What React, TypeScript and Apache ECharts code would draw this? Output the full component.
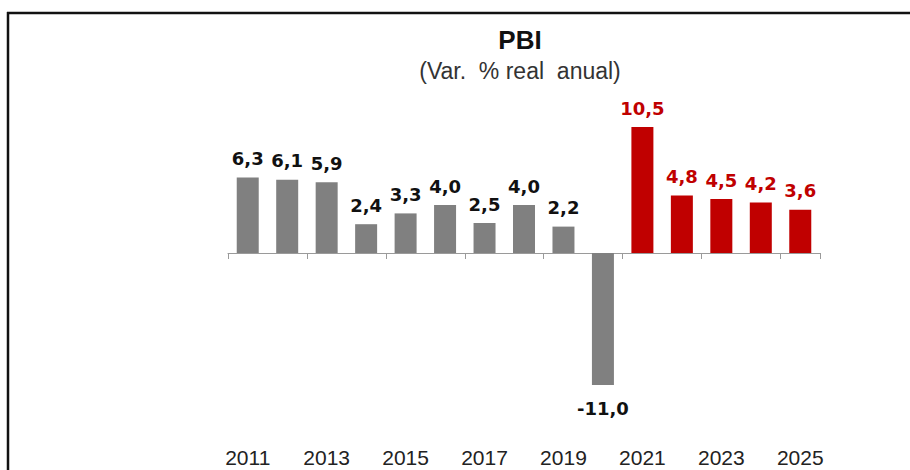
import React, { useEffect, useRef } from "react";
import * as echarts from "echarts";

const years = ["2011","2012","2013","2014","2015","2016","2017","2018","2019","2020","2021","2022","2023","2024","2025"];
const values = [6.3, 6.1, 5.9, 2.4, 3.3, 4.0, 2.5, 4.0, 2.2, -11.0, 10.5, 4.8, 4.5, 4.2, 3.6];
const projectedFrom = "2021";
const titleText = "PBI";
const subtitleText = "(Var.  % real  anual)";

const GREY = "#808080";
const RED = "#c00000";

export default function App() {
  const ref = useRef<HTMLDivElement>(null);
  useEffect(() => {
    document.body.style.margin = "0";
    const chart = echarts.init(ref.current!, null, { renderer: "svg" });
    const data = values.map((v, i) => {
      const proj = Number(years[i]) >= Number(projectedFrom);
      return {
        value: v,
        itemStyle: { color: proj ? RED : GREY },
        label: {
          position: v < 0 ? "bottom" : "top",
          distance: v < 0 ? 14 : 10,
          color: proj ? RED : "#111",
        },
      };
    });
    chart.setOption({
      animation: false,
      backgroundColor: "#fff",
      grid: { left: 228, right: 90, top: 109, bottom: 73, containLabel: false, outerBoundsMode: "none" },
      xAxis: [
        {
          type: "category",
          data: years,
          position: "bottom",
          axisLine: { onZero: true, lineStyle: { color: "#9a9a9a", width: 1 } },
          axisTick: { show: true, interval: 1, length: 6, lineStyle: { color: "#9a9a9a" } },
          axisLabel: { show: false },
        },
        {
          type: "category",
          data: years,
          position: "bottom",
          offset: 0,
          axisLine: { show: false, onZero: false },
          axisTick: { show: false },
          axisLabel: {
            interval: 1,
            margin: 50,
            fontFamily: "Liberation Sans, Arial, sans-serif",
            fontSize: 21,
            color: "#222",
          },
        },
      ],
      yAxis: { type: "value", min: -12, max: 12, show: false, splitLine: { show: false } },
      series: [
        {
          type: "bar",
          xAxisIndex: 0,
          data,
          barWidth: 22,
          label: {
            show: true,
            fontFamily: "DejaVu Sans, sans-serif",
            fontWeight: "bold",
            fontSize: 18,
            formatter: (p: any) => Number(p.value).toFixed(1).replace(".", ","),
          },
        },
      ],
      graphic: [
        { type: "line", shape: { x1: 7, y1: 13, x2: 910, y2: 13 }, style: { stroke: "#111", lineWidth: 2.5 } },
        { type: "line", shape: { x1: 8, y1: 12, x2: 8, y2: 470 }, style: { stroke: "#111", lineWidth: 2.5 } },
        {
          type: "text",
          x: 520,
          y: 40,
          style: {
            text: titleText,
            fontFamily: "Liberation Sans, Arial, sans-serif",
            fontWeight: "bold",
            fontSize: 26,
            fill: "#111",
            textAlign: "center",
            textVerticalAlign: "middle",
          },
        },
        {
          type: "text",
          x: 520,
          y: 71,
          style: {
            text: subtitleText,
            fontFamily: "Liberation Sans, Arial, sans-serif",
            fontSize: 23,
            fill: "#333",
            textAlign: "center",
            textVerticalAlign: "middle",
          },
        },
      ],
    });
    return () => chart.dispose();
  }, []);
  return <div ref={ref} style={{ position: "absolute", left: 0, top: 0, width: 910, height: 470 }} />;
}
